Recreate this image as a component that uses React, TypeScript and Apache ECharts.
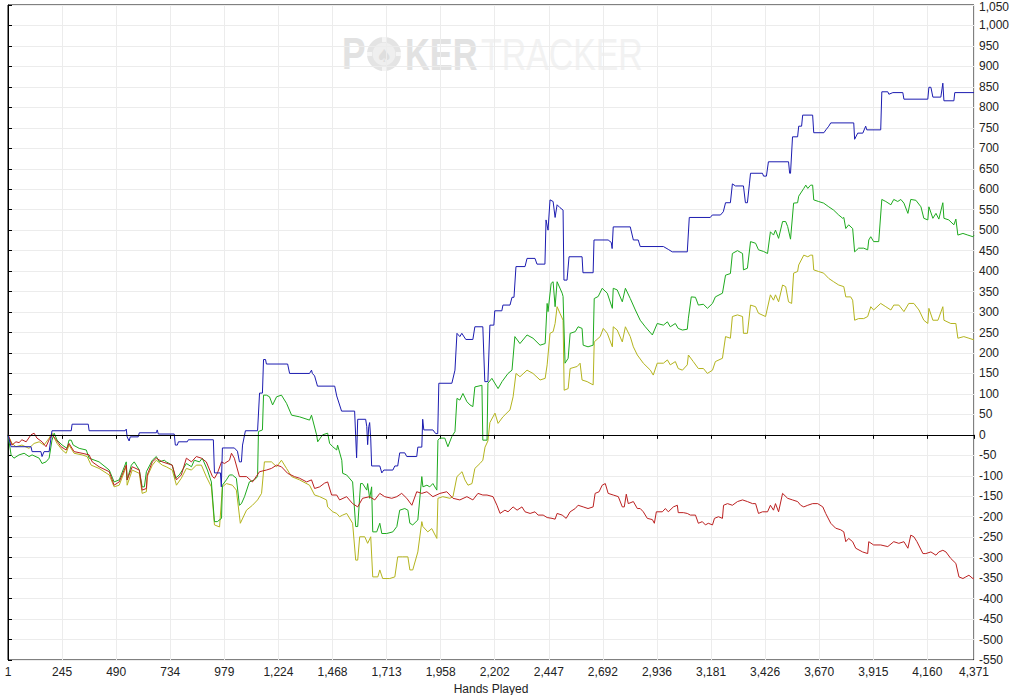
import React, { useEffect, useRef } from "react";
import * as echarts from "echarts";

// Hands played (x) and winnings (y).
const handsTotal = 4371;
const handTickStep = 244.65;
const yMin = -550;
const yMax = 1050;
const yStep = 50;

const blueLine: [number, number][] = [
  [1, 0], [15, -29], [105, -29], [110, -41], [150, -41], [155, -53], [164, -41], [187, -41],
  [200, 10], [287, 10], [291, 26], [364, 26], [368, 10], [531, 10], [536, 14], [540, -5],
  [549, -15], [554, -5], [590, -5], [595, 5], [672, 5], [676, 12], [681, 2], [753, 2],
  [758, -25], [767, -25], [772, -17], [812, -17], [817, -12], [930, -12], [935, -93], [962, -93],
  [966, -127], [971, -32], [1025, -32], [1039, -40], [1048, -66], [1057, -66], [1062, -25], [1075, 10],
  [1130, 10], [1139, 102], [1152, 102], [1157, 184], [1166, 184], [1170, 173], [1266, 173], [1275, 150],
  [1365, 150], [1374, 158], [1378, 150], [1388, 144], [1401, 119], [1479, 119], [1488, 95], [1510, 58],
  [1569, 58], [1578, -56], [1583, 38], [1619, 38], [1624, 20], [1628, -24], [1633, 20], [1637, 30],
  [1642, -10], [1646, -76], [1683, -76], [1692, -93], [1701, -86], [1742, -86], [1751, -76], [1764, -76],
  [1773, -44], [1796, -44], [1805, -53], [1850, -53], [1855, -30], [1873, -30], [1877, 38], [1882, 12],
  [1923, 12], [1936, 3], [1945, 3], [1950, 126], [2009, 126], [2023, 158], [2032, 248], [2045, 240],
  [2054, 248], [2072, 233], [2104, 233], [2113, 264], [2149, 264], [2158, 130], [2172, 130], [2181, 268],
  [2199, 268], [2203, 303], [2235, 303], [2240, 317], [2272, 317], [2281, 336], [2290, 336], [2299, 411],
  [2340, 411], [2349, 431], [2385, 431], [2394, 417], [2430, 417], [2435, 525], [2444, 500], [2453, 574],
  [2467, 570], [2476, 531], [2485, 562], [2498, 555], [2512, 549], [2516, 378], [2530, 378], [2539, 435],
  [2598, 435], [2602, 396], [2648, 396], [2652, 476], [2716, 476], [2730, 470], [2734, 455], [2739, 508],
  [2816, 508], [2830, 476], [2852, 476], [2861, 460], [2966, 460], [2988, 453], [3006, 447], [3074, 447],
  [3083, 531], [3178, 531], [3187, 537], [3224, 537], [3237, 545], [3247, 567], [3269, 567], [3278, 613],
  [3292, 608], [3328, 608], [3337, 567], [3346, 567], [3355, 613], [3360, 639], [3414, 639], [3419, 632],
  [3432, 632], [3441, 667], [3532, 667], [3537, 639], [3541, 639], [3550, 728], [3573, 728], [3578, 754],
  [3591, 754], [3596, 781], [3641, 781], [3646, 738], [3692, 738], [3701, 745], [3714, 754], [3723, 762],
  [3827, 762], [3831, 722], [3845, 737], [3868, 737], [3881, 754], [3886, 745], [3949, 745], [3954, 838],
  [3981, 838], [3986, 832], [4004, 836], [4049, 836], [4054, 820], [4162, 820], [4167, 849], [4176, 849],
  [4185, 825], [4221, 825], [4230, 859], [4235, 816], [4280, 816], [4284, 836], [4371, 836],
];

const greenLine: [number, number][] = [
  [1, 0], [15, -49], [28, -57], [51, -49], [74, -45], [96, -53], [110, -49], [142, -57], [155, -70],
  [173, -66], [187, -57], [200, -13], [210, 4], [223, -13], [246, -25], [268, -33], [277, -13], [287, -13],
  [296, -25], [323, -33], [355, -37], [368, -57], [413, -66], [459, -86], [481, -115], [504, -110], [536, -66],
  [540, -110], [559, -74], [572, -66], [595, -86], [608, -127], [618, -127], [627, -90], [654, -62], [672, -53],
  [686, -66], [708, -62], [717, -66], [744, -74], [758, -106], [776, -98], [790, -86], [808, -70], [831, -78],
  [844, -62], [867, -66], [880, -57], [903, -86], [921, -115], [935, -212], [948, -212], [967, -204], [971, -123],
  [989, -110], [1003, -98], [1016, -98], [1034, -106], [1048, -172], [1057, -168], [1071, -151], [1093, -115],
  [1116, -110], [1130, -102], [1134, 8], [1152, 12], [1157, 97], [1170, 97], [1184, 93], [1198, 73], [1216, 93],
  [1238, 97], [1261, 77], [1284, 48], [1320, 44], [1365, 36], [1374, 48], [1397, 0], [1402, -17], [1424, 0],
  [1447, 4], [1456, -21], [1470, -29], [1488, -37], [1492, -25], [1511, -62], [1515, -94], [1533, -98],
  [1560, -115], [1574, -224], [1583, -224], [1596, -119], [1605, -119], [1624, -135], [1628, -119], [1637, -155],
  [1646, -127], [1651, -237], [1669, -237], [1683, -216], [1692, -241], [1714, -241], [1742, -237], [1760, -224],
  [1773, -184], [1796, -180], [1810, -184], [1819, -216], [1832, -220], [1855, -208], [1873, -102], [1878, -127],
  [1896, -123], [1909, -127], [1923, -119], [1941, -135], [1946, -13], [1955, -8], [1977, -8], [1991, -29],
  [2009, -4], [2023, 8], [2032, 89], [2045, 85], [2059, 101], [2077, 81], [2091, 73], [2104, 69], [2113, 117],
  [2145, 121], [2149, -13], [2168, -13], [2172, 126], [2190, 138], [2218, 113], [2236, 130], [2263, 150],
  [2281, 158], [2294, 240], [2317, 223], [2349, 244], [2376, 236], [2408, 219], [2431, 223], [2440, 321],
  [2444, 301], [2458, 370], [2467, 374], [2476, 313], [2485, 374], [2508, 346], [2512, 338], [2521, 175],
  [2535, 187], [2544, 248], [2567, 252], [2580, 264], [2598, 260], [2603, 219], [2625, 215], [2648, 219],
  [2653, 333], [2671, 338], [2689, 358], [2712, 346], [2735, 309], [2739, 358], [2757, 354], [2780, 325],
  [2794, 358], [2816, 333], [2839, 305], [2861, 280], [2884, 264], [2916, 244], [2938, 272], [2966, 268],
  [2984, 276], [2997, 264], [3020, 272], [3033, 260], [3052, 256], [3074, 258], [3079, 285], [3092, 337],
  [3111, 336], [3124, 317], [3147, 319], [3165, 309], [3188, 321], [3201, 337], [3233, 346], [3247, 390],
  [3269, 394], [3278, 443], [3301, 450], [3324, 443], [3328, 403], [3346, 407], [3360, 472], [3383, 468],
  [3396, 452], [3419, 448], [3437, 443], [3450, 496], [3464, 488], [3473, 500], [3487, 480], [3505, 521],
  [3519, 521], [3528, 509], [3541, 478], [3555, 566], [3573, 567], [3578, 583], [3601, 602], [3610, 610],
  [3619, 602], [3632, 610], [3641, 610], [3646, 574], [3668, 570], [3691, 566], [3714, 557], [3736, 549],
  [3759, 537], [3777, 529], [3782, 531], [3791, 504], [3804, 513], [3822, 504], [3831, 447], [3849, 456],
  [3872, 456], [3890, 452], [3895, 476], [3904, 484], [3917, 472], [3940, 472], [3954, 575], [3972, 570],
  [3995, 562], [4008, 575], [4026, 570], [4040, 575], [4054, 566], [4072, 541], [4085, 575], [4108, 573],
  [4131, 557], [4144, 529], [4162, 525], [4167, 557], [4185, 529], [4199, 541], [4212, 527], [4230, 567],
  [4235, 529], [4257, 525], [4280, 513], [4289, 527], [4298, 488], [4321, 492], [4343, 488], [4366, 484],
  [4371, 488],
];

const yellowLine: [number, number][] = [
  [1, 0], [19, -21], [37, -29], [64, -25], [96, -33], [119, -21], [142, -17], [164, -25], [187, -8],
  [200, 4], [223, -21], [246, -37], [264, -45], [277, -25], [300, -45], [336, -49], [359, -53], [377, -74],
  [413, -82], [459, -98], [481, -127], [504, -123], [536, -78], [540, -123], [563, -86], [595, -94],
  [608, -143], [627, -139], [631, -102], [654, -74], [672, -62], [699, -74], [717, -78], [744, -86],
  [763, -123], [785, -106], [808, -82], [831, -86], [853, -74], [876, -74], [898, -102], [921, -127],
  [935, -220], [958, -225], [971, -127], [989, -119], [1016, -123], [1034, -135], [1052, -216], [1080, -184],
  [1107, -172], [1130, -159], [1148, -143], [1161, -66], [1193, -66], [1216, -78], [1238, -62], [1261, -82],
  [1284, -102], [1320, -110], [1365, -123], [1388, -147], [1411, -151], [1442, -159], [1447, -176], [1470, -188],
  [1488, -192], [1501, -200], [1515, -196], [1533, -192], [1560, -216], [1574, -306], [1583, -306], [1592, -249],
  [1615, -249], [1628, -265], [1642, -249], [1651, -347], [1674, -347], [1683, -330], [1696, -351], [1728, -351],
  [1751, -347], [1764, -298], [1787, -298], [1810, -298], [1819, -330], [1832, -330], [1855, -286], [1873, -212],
  [1878, -224], [1900, -237], [1918, -229], [1941, -253], [1946, -155], [1968, -151], [2000, -155], [2014, -151],
  [2032, -102], [2055, -90], [2068, -110], [2082, -123], [2100, -119], [2113, -82], [2136, -70], [2149, -62],
  [2159, -30], [2172, -15], [2181, 30], [2204, 53], [2218, 28], [2240, 44], [2272, 61], [2286, 93], [2299, 150],
  [2317, 142], [2349, 158], [2376, 150], [2408, 134], [2431, 138], [2440, 171], [2453, 248], [2467, 252],
  [2476, 272], [2485, 313], [2498, 297], [2512, 280], [2517, 109], [2535, 113], [2544, 162], [2576, 167],
  [2589, 175], [2598, 134], [2621, 130], [2648, 122], [2653, 227], [2680, 240], [2694, 260], [2712, 248],
  [2735, 215], [2739, 264], [2757, 256], [2780, 227], [2794, 264], [2816, 240], [2830, 215], [2848, 195],
  [2875, 175], [2907, 158], [2920, 146], [2938, 175], [2966, 175], [2984, 183], [2997, 171], [3020, 179],
  [3033, 162], [3052, 158], [3074, 171], [3079, 195], [3101, 179], [3124, 162], [3147, 162], [3165, 150],
  [3188, 158], [3201, 179], [3233, 187], [3247, 240], [3269, 236], [3278, 289], [3301, 293], [3324, 289],
  [3328, 248], [3346, 248], [3360, 317], [3383, 313], [3396, 297], [3428, 289], [3450, 342], [3464, 329],
  [3473, 342], [3487, 325], [3505, 366], [3519, 362], [3532, 325], [3546, 321], [3555, 395], [3573, 399],
  [3578, 415], [3601, 439], [3619, 435], [3632, 439], [3641, 439], [3646, 403], [3668, 399], [3691, 395],
  [3714, 382], [3736, 374], [3759, 366], [3782, 362], [3791, 337], [3813, 337], [3822, 329], [3831, 280],
  [3849, 284], [3872, 284], [3890, 289], [3904, 313], [3917, 305], [3949, 321], [3972, 313], [3995, 305],
  [4008, 317], [4031, 317], [4054, 301], [4076, 321], [4099, 321], [4122, 305], [4144, 280], [4162, 272],
  [4167, 309], [4185, 280], [4208, 280], [4230, 313], [4235, 280], [4266, 272], [4289, 272], [4298, 236],
  [4325, 240], [4348, 236], [4371, 232],
];

const redLine: [number, number][] = [
  [1, 0], [19, -25], [37, -17], [51, -19], [64, -12], [83, -17], [105, 0], [119, 4], [132, -8], [155, -17],
  [173, -29], [187, -12], [200, 0], [219, -12], [241, -29], [264, -37], [277, -21], [300, -41], [336, -45],
  [368, -49], [382, -66], [413, -78], [459, -90], [481, -123], [504, -115], [536, -74], [540, -110], [563, -78],
  [595, -86], [608, -135], [627, -131], [631, -98], [654, -66], [672, -57], [699, -66], [744, -74], [763, -110],
  [785, -98], [808, -57], [831, -66], [853, -53], [876, -57], [898, -66], [926, -102], [935, -106], [948, -94],
  [967, -66], [980, -70], [1003, -62], [1012, -45], [1025, -57], [1048, -102], [1080, -102], [1107, -115],
  [1139, -90], [1170, -86], [1193, -82], [1216, -74], [1238, -78], [1266, -94], [1297, -102], [1320, -106],
  [1352, -115], [1374, -110], [1388, -131], [1411, -127], [1433, -118], [1447, -115], [1465, -147], [1488, -147],
  [1501, -159], [1533, -151], [1560, -168], [1583, -176], [1605, -155], [1637, -151], [1660, -159], [1683, -143],
  [1705, -151], [1737, -155], [1760, -151], [1782, -143], [1805, -155], [1828, -172], [1850, -139], [1873, -143],
  [1896, -139], [1923, -151], [1955, -143], [1986, -139], [2014, -155], [2045, -159], [2077, -151], [2104, -159],
  [2127, -143], [2149, -147], [2168, -147], [2195, -151], [2213, -172], [2227, -192], [2249, -184], [2263, -188],
  [2286, -176], [2304, -184], [2326, -176], [2340, -188], [2363, -192], [2385, -188], [2399, -196], [2422, -196],
  [2440, -202], [2462, -204], [2476, -206], [2485, -192], [2508, -196], [2526, -204], [2544, -188], [2567, -180],
  [2580, -172], [2603, -176], [2625, -180], [2648, -176], [2657, -143], [2675, -139], [2689, -123], [2703, -119],
  [2716, -143], [2739, -147], [2762, -151], [2780, -176], [2789, -176], [2798, -145], [2807, -168], [2830, -163],
  [2848, -180], [2861, -180], [2875, -188], [2893, -204], [2916, -207], [2925, -216], [2934, -188], [2961, -188],
  [2975, -180], [2988, -188], [3011, -176], [3029, -172], [3033, -190], [3056, -190], [3074, -192], [3088, -196],
  [3111, -196], [3124, -216], [3142, -212], [3156, -220], [3169, -216], [3188, -220], [3197, -204], [3215, -200],
  [3233, -204], [3238, -172], [3256, -168], [3278, -172], [3301, -163], [3324, -159], [3346, -163], [3369, -168],
  [3383, -168], [3396, -192], [3414, -188], [3437, -188], [3450, -172], [3464, -184], [3473, -168], [3487, -188],
  [3505, -143], [3528, -155], [3550, -159], [3573, -163], [3587, -172], [3601, -176], [3619, -172], [3641, -168],
  [3664, -168], [3687, -176], [3700, -192], [3723, -216], [3745, -228], [3768, -232], [3782, -237], [3791, -261],
  [3804, -253], [3822, -261], [3836, -277], [3867, -286], [3890, -290], [3895, -261], [3917, -269], [3949, -269],
  [3981, -273], [4008, -261], [4031, -265], [4054, -261], [4072, -277], [4085, -245], [4099, -249], [4113, -261],
  [4140, -290], [4153, -290], [4176, -286], [4199, -294], [4212, -286], [4230, -282], [4244, -286], [4266, -302],
  [4289, -314], [4303, -347], [4321, -351], [4334, -347], [4348, -343], [4366, -351], [4371, -350],
];

const xAxisTitle = "Hands Played";
const watermarkLead = "P";
const watermarkBold = "KER";
const watermarkLight = "TRACKER";

const fmt = (n: number) => n.toLocaleString("en-US");
// x axis runs over hand index (hand - 1), so ticks start at 0
const toIndex = (pts: [number, number][]) => pts.map(([h, v]) => [h - 1, v]);

export default function App() {
  const ref = useRef<HTMLDivElement>(null);

  useEffect(() => {
    if (!ref.current) return;
    const chart = echarts.init(ref.current, null, { renderer: "svg" });
    const font = "'Liberation Sans', Arial, sans-serif";
    const lineSeries = (name: string, color: string, pts: [number, number][], extra: any = {}) => ({
      name,
      type: "line",
      data: toIndex(pts),
      showSymbol: false,
      symbol: "none",
      lineStyle: { color, width: 1 },
      itemStyle: { color },
      silent: true,
      z: 3,
      ...extra,
    });

    chart.setOption({
      animation: false,
      backgroundColor: "#ffffff",
      textStyle: { fontFamily: font },
      grid: {
        left: 8,
        right: 42,
        top: 5,
        bottom: 35,
        containLabel: false,
        outerBoundsMode: "none",
        show: true,
        borderColor: "#000000",
        borderWidth: 1,
        backgroundColor: "transparent",
      },
      graphic: [
        {
          type: "group",
          z: -10,
          silent: true,
          children: [
            {
              type: "text",
              x: 342,
              y: 54,
              scaleX: 0.8,
              style: {
                text: watermarkLead,
                fill: "#e2e2e2",
                font: `bold 44px ${font}`,
                textVerticalAlign: "middle",
              },
            },
            { type: "circle", shape: { cx: 384, cy: 54, r: 17 }, style: { fill: "#e4e4e4" } },
            { type: "circle", shape: { cx: 384, cy: 54, r: 11.5 }, style: { fill: "#efefef" } },
            { type: "rect", shape: { x: 382, y: 37, width: 4, height: 5 }, style: { fill: "#f5f5f5" } },
            { type: "rect", shape: { x: 382, y: 66, width: 4, height: 5 }, style: { fill: "#f5f5f5" } },
            { type: "rect", shape: { x: 367, y: 52, width: 5, height: 4 }, style: { fill: "#f5f5f5" } },
            { type: "rect", shape: { x: 396, y: 52, width: 5, height: 4 }, style: { fill: "#f5f5f5" } },
            {
              type: "text",
              x: 384,
              y: 55,
              style: {
                text: "♠",
                fill: "#dedede",
                font: "18px 'DejaVu Sans', sans-serif",
                textAlign: "center",
                textVerticalAlign: "middle",
              },
            },
            {
              type: "text",
              x: 405,
              y: 54,
              scaleX: 0.78,
              style: {
                text: watermarkBold,
                fill: "#e2e2e2",
                font: `bold 44px ${font}`,
                textVerticalAlign: "middle",
              },
            },
            {
              type: "text",
              x: 481,
              y: 54,
              scaleX: 0.77,
              style: {
                text: watermarkLight,
                fill: "#f2f2f2",
                font: `44px ${font}`,
                textVerticalAlign: "middle",
              },
            },
          ],
        },
      ],
      xAxis: {
        type: "value",
        min: 0,
        max: handsTotal - 1,
        interval: handTickStep,
        name: xAxisTitle,
        nameLocation: "middle",
        nameGap: 21,
        nameTextStyle: { color: "#222222", fontSize: 12, fontFamily: font, lineHeight: 12 },
        axisLine: { show: true, lineStyle: { color: "#000000", width: 1 } },
        axisTick: { show: true, length: 4, lineStyle: { color: "#000000" } },
        axisLabel: {
          color: "#222222",
          fontSize: 12,
          fontFamily: font,
          margin: 6,
          showMinLabel: true,
          showMaxLabel: true,
          formatter: (v: number) => fmt(Math.floor(v + 1e-6) + 1),
        },
        splitLine: { show: true, lineStyle: { color: "#ececec", width: 1 } },
      },
      yAxis: {
        type: "value",
        position: "right",
        min: yMin,
        max: yMax,
        interval: yStep,
        axisLine: { show: true, lineStyle: { color: "#000000", width: 1 } },
        axisTick: { show: true, length: 4, lineStyle: { color: "#000000" } },
        axisLabel: {
          color: "#222222",
          fontSize: 12,
          fontFamily: font,
          margin: 5,
          formatter: (v: number) => (v >= yMax ? `{edge|${fmt(v)}}` : fmt(v)),
          rich: {
            edge: {
              color: "#222222",
              fontSize: 12,
              fontFamily: font,
              lineHeight: 12,
              padding: [4, 0, 0, 0],
            },
          },
        },
        splitLine: { show: true, lineStyle: { color: "#ececec", width: 1 } },
      },
      series: [
        lineSeries("Net Won", "#b4b41e", yellowLine),
        lineSeries("All-in EV", "#1eaa1e", greenLine),
        lineSeries("Non-showdown", "#bb2020", redLine),
        lineSeries("Showdown", "#1c1cb0", blueLine, {
          markLine: {
            silent: true,
            symbol: "none",
            label: { show: false },
            lineStyle: { color: "#000000", width: 1, type: "solid" },
            data: [{ yAxis: 0 }],
          },
        }),
      ],
    });

    return () => chart.dispose();
  }, []);

  return (
    <div
      ref={ref}
      style={{ position: "absolute", left: 0, top: 0, width: 1016, height: 695, background: "#fff" }}
    />
  );
}
